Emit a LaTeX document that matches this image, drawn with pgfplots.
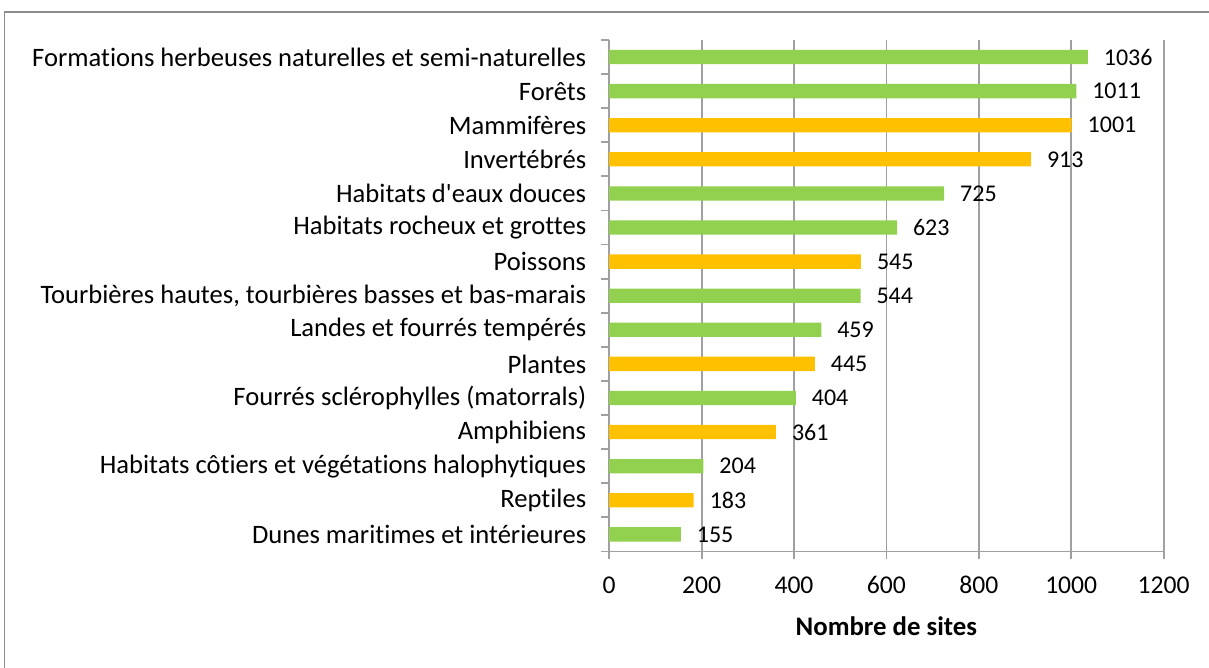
\documentclass[border=0pt]{standalone}
\usepackage{pgfplots}
\pgfplotsset{compat=1.18}
\usepackage{fontspec}
\setmainfont{Carlito}[Ligatures=NoCommon]
\definecolor{grn}{HTML}{92D050}
\definecolor{org}{HTML}{FFC000}
\definecolor{grd}{HTML}{A0A0A0}
\begin{document}
\begin{tikzpicture}
\begin{axis}[
 at={(304.6bp,-275.7bp)}, anchor=south west,
 scale only axis, width=277.2bp, height=255.7bp,
 xmin=0, xmax=1200, ymin=-0.5, ymax=14.5,
 xtick={0,200,...,1200},
 xbar, bar shift=0pt, bar width=0.42,
 ytick={-0.5,0.5,...,14.5},
 y tick label as interval,
 yticklabels={Dunes maritimes et intérieures, Reptiles, Habitats côtiers et végétations halophytiques, Amphibiens, Fourrés sclérophylles (matorrals), Plantes, Landes et fourrés tempérés, {Tourbières hautes, tourbières basses et bas-marais}, Poissons, Habitats rocheux et grottes, Habitats d\textquotesingle eaux douces, Invertébrés, Mammifères, Forêts, Formations herbeuses naturelles et semi-naturelles},
 axis x line*=bottom, axis y line*=left,
 xmajorgrids, major grid style={grd, line width=0.9bp},
 axis line style={grd, line width=0.9bp},
 tick align=outside,
 major tick length=4bp,
 tick style={grd, line width=0.9bp},
 xticklabel style={font=\fontsize{12.8bp}{15bp}\selectfont, black, yshift=-5bp},
 yticklabel style={font=\fontsize{13.3bp}{15bp}\selectfont, black, xshift=-4bp},
 /pgf/number format/assume math mode=true,
 /pgf/number format/1000 sep={},
 xlabel={Nombre de sites},
 xlabel style={font=\bfseries\fontsize{13.4bp}{16bp}\selectfont, yshift=-4.5bp},
 nodes near coords, point meta=x,
 nodes near coords style={anchor=west, xshift=4.5bp, font=\fontsize{12bp}{14bp}\selectfont, black},
 clip=false,
]
\addplot[draw=none, fill=grn] coordinates {(155,0) (204,2) (404,4) (459,6) (544,7) (623,9) (725,10) (1011,13) (1036,14)};
\addplot[draw=none, fill=org] coordinates {(183,1) (361,3) (445,5) (545,8) (913,11) (1001,12)};
\end{axis}
\draw[color=gray!90, line width=0.8bp] (2.3bp,-6bp) rectangle (620bp,-345bp);
\pgfresetboundingbox
\useasboundingbox (0,0) rectangle (604.5bp,-334bp);
\end{tikzpicture}
\end{document}
